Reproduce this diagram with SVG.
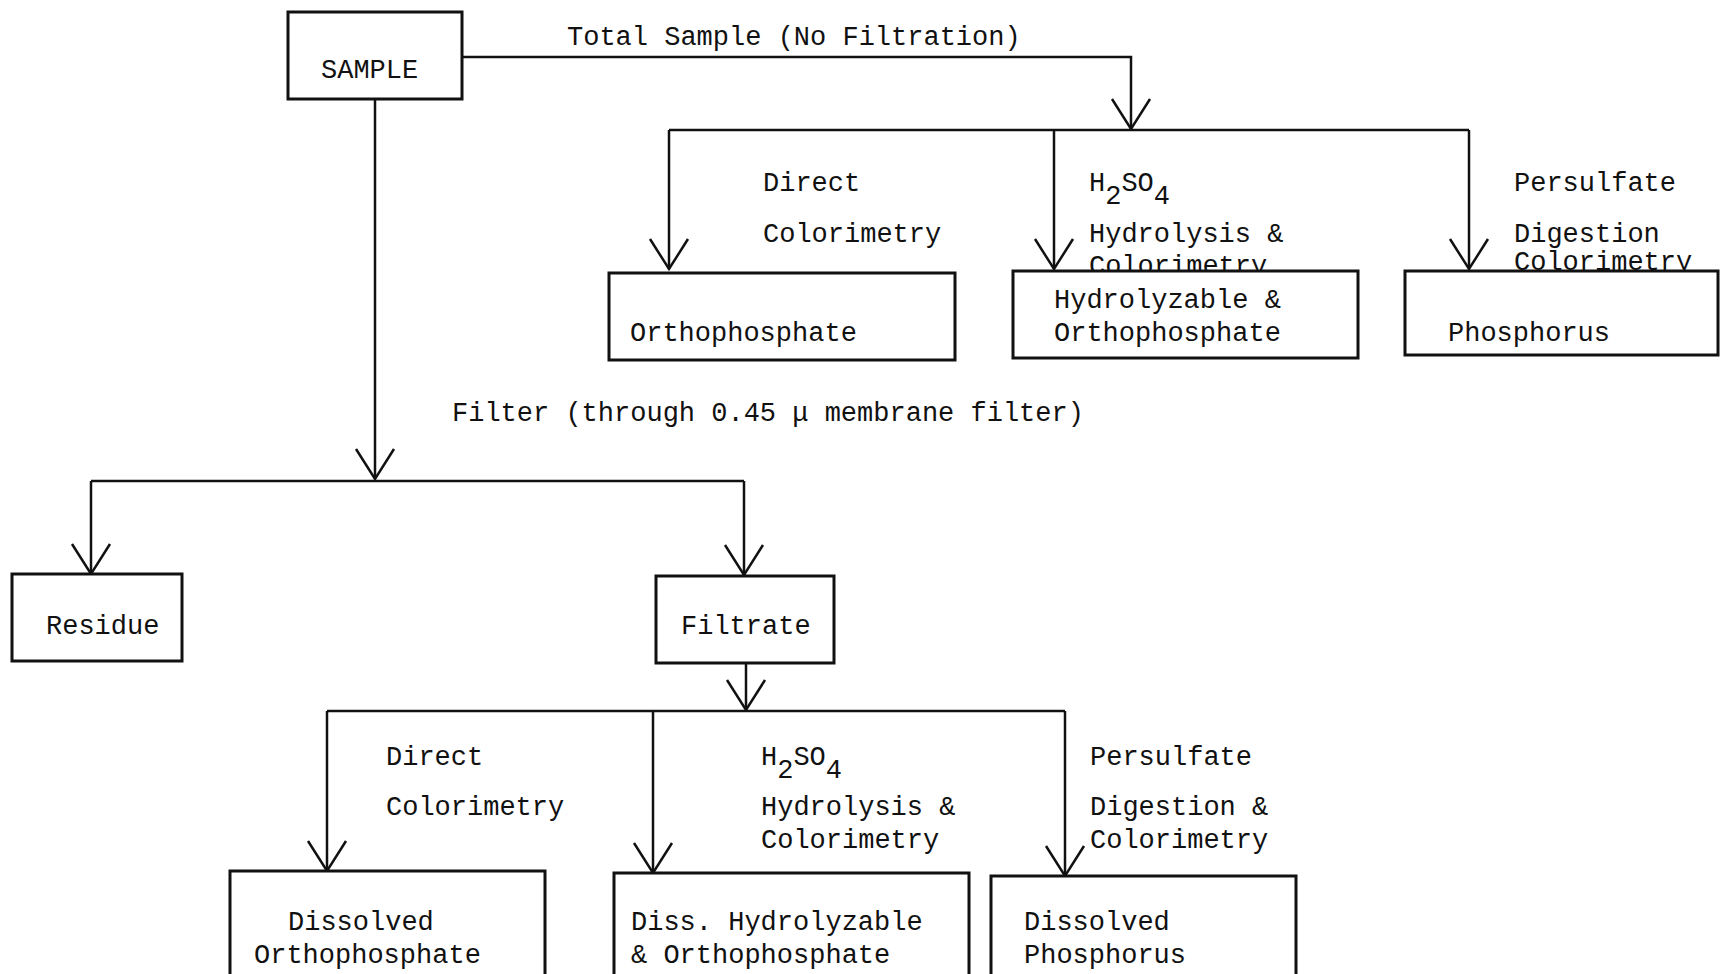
<svg xmlns="http://www.w3.org/2000/svg" width="1725" height="974" viewBox="0 0 1725 974">
<style>
text{font-family:"Liberation Mono","DejaVu Sans Mono",monospace;font-size:27px;fill:#111}
.ln{stroke:#111;stroke-width:2.5;fill:none}
.bx{stroke:#111;stroke-width:3;fill:#fff}
</style>
<defs>
<marker id="v" viewBox="-32 -21 36 42" markerWidth="36" markerHeight="42" refX="0" refY="0" orient="auto" markerUnits="userSpaceOnUse">
<path d="M-30,-19 L0,0 L-30,19" fill="none" stroke="#111" stroke-width="2.5"/>
</marker>
</defs>
<rect width="1725" height="974" fill="#fff"/>
<g id="connectors">
<path class="ln" d="M462,57 H1131 V129" marker-end="url(#v)"/>
<path class="ln" d="M669,130 H1469"/>
<path class="ln" d="M669,130 V269" marker-end="url(#v)"/>
<path class="ln" d="M1054,130 V269" marker-end="url(#v)"/>
<path class="ln" d="M1469,130 V269" marker-end="url(#v)"/>
<path class="ln" d="M375,99 V479" marker-end="url(#v)"/>
<path class="ln" d="M91,481 H744"/>
<path class="ln" d="M91,481 V574" marker-end="url(#v)"/>
<path class="ln" d="M744,481 V575" marker-end="url(#v)"/>
<path class="ln" d="M746,663 V710" marker-end="url(#v)"/>
<path class="ln" d="M327,711 H1065"/>
<path class="ln" d="M327,711 V871" marker-end="url(#v)"/>
<path class="ln" d="M653,711 V873" marker-end="url(#v)"/>
<path class="ln" d="M1065,711 V876" marker-end="url(#v)"/>
<text x="567" y="45">Total Sample (No Filtration)</text>
<text x="763" y="191">Direct</text>
<text x="763" y="242">Colorimetry</text>
<text x="1089" y="191">H<tspan dy="13">2</tspan><tspan dy="-13">SO</tspan><tspan dy="13">4</tspan></text>
<text x="1089" y="242">Hydrolysis &amp;</text>
<text x="1089" y="274">Colorimetry</text>
<text x="1514" y="191">Persulfate</text>
<text x="1514" y="242">Digestion</text>
<text x="1514" y="270">Colorimetry</text>
<text x="452" y="421">Filter (through 0.45 μ membrane filter)</text>
<text x="386" y="765">Direct</text>
<text x="386" y="815">Colorimetry</text>
<text x="761" y="765">H<tspan dy="13">2</tspan><tspan dy="-13">SO</tspan><tspan dy="13">4</tspan></text>
<text x="761" y="815">Hydrolysis &amp;</text>
<text x="761" y="848">Colorimetry</text>
<text x="1090" y="765">Persulfate</text>
<text x="1090" y="815">Digestion &amp;</text>
<text x="1090" y="848">Colorimetry</text>
</g>
<g id="sample"><rect class="bx" x="288" y="12" width="174" height="87"/><text x="321" y="78">SAMPLE</text></g>
<g id="orthophosphate"><rect class="bx" x="609" y="273" width="346" height="87"/><text x="630" y="341">Orthophosphate</text></g>
<g id="hydrolyzable"><rect class="bx" x="1013" y="271" width="345" height="87"/><text x="1054" y="308">Hydrolyzable &amp;</text><text x="1054" y="341">Orthophosphate</text></g>
<g id="phosphorus"><rect class="bx" x="1405" y="271" width="313" height="84"/><text x="1448" y="341">Phosphorus</text></g>
<g id="residue"><rect class="bx" x="12" y="574" width="170" height="87"/><text x="46" y="634">Residue</text></g>
<g id="filtrate"><rect class="bx" x="656" y="576" width="178" height="87"/><text x="681" y="634">Filtrate</text></g>
<g id="dissolved-ortho"><rect class="bx" x="230" y="871" width="315" height="110"/><text x="288" y="930">Dissolved</text><text x="254" y="963">Orthophosphate</text></g>
<g id="diss-hydrolyzable"><rect class="bx" x="614" y="873" width="355" height="110"/><text x="631" y="930">Diss. Hydrolyzable</text><text x="631" y="963">&amp; Orthophosphate</text></g>
<g id="dissolved-phosphorus"><rect class="bx" x="991" y="876" width="305" height="110"/><text x="1024" y="930">Dissolved</text><text x="1024" y="963">Phosphorus</text></g>
</svg>
